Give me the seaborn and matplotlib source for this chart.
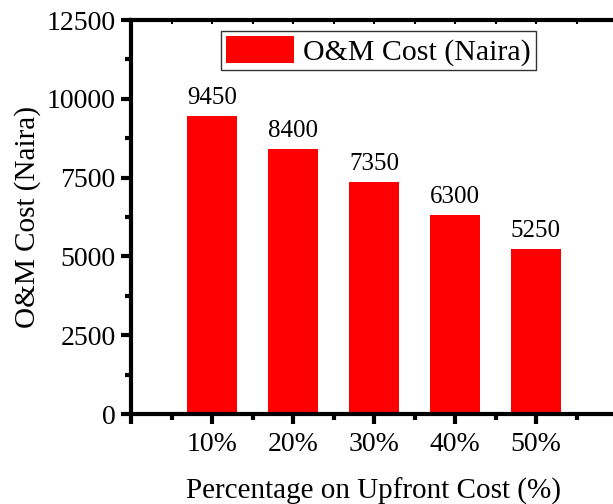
import matplotlib
matplotlib.use("Agg")
import matplotlib.pyplot as plt
from matplotlib.ticker import FixedLocator, MultipleLocator
import seaborn as sns
import pandas as pd

categories = ["10%", "20%", "30%", "40%", "50%"]
values = [9450, 8400, 7350, 6300, 5250]
series_name = "O&M Cost (Naira)"
x_label = "Percentage on Upfront Cost (%)"
y_label = "O&M Cost (Naira)"

sns.set_style("ticks")
plt.rcParams["font.family"] = ["Liberation Serif", "DejaVu Serif"]
plt.rcParams["text.color"] = "black"
plt.rcParams["axes.labelcolor"] = "black"
plt.rcParams["xtick.color"] = "black"
plt.rcParams["ytick.color"] = "black"

df = pd.DataFrame({"pct": categories, "cost": values, "series": series_name})

fig = plt.figure(figsize=(6.13, 5.04), dpi=100)
ax = fig.add_axes([131 / 613, 90 / 504, 486 / 613, 394 / 504])

sns.barplot(data=df, x="pct", y="cost", hue="series", order=categories,
            palette=["#FF0000"], width=0.62, saturation=1, ax=ax,
            edgecolor="none", linewidth=0)

ax.set_xlim(-1, 5)
ax.set_ylim(0, 12500)

ax.xaxis.set_major_locator(FixedLocator([-1, 0, 1, 2, 3, 4, 5]))
ax.set_xticklabels([""] + categories + [""])
ax.xaxis.set_minor_locator(FixedLocator([-0.5, 0.5, 1.5, 2.5, 3.5, 4.5, 5.5]))
ax.yaxis.set_major_locator(MultipleLocator(2500))
ax.yaxis.set_minor_locator(MultipleLocator(1250))

for s in ["left", "bottom", "top"]:
    ax.spines[s].set_linewidth(3)
    ax.spines[s].set_color("black")
ax.spines["right"].set_visible(False)

ax.tick_params(axis="both", which="major", direction="out", length=7, width=3,
               labelsize=20, colors="black", pad=4)
ax.tick_params(axis="both", which="minor", direction="out", length=4, width=3)
ax.tick_params(axis="x", which="major", labelsize=20, pad=6)

# small inward ticks on the top spine
top = ax.secondary_xaxis("top")
top.xaxis.set_major_locator(FixedLocator([-1, 0, 1, 2, 3, 4, 5]))
top.xaxis.set_minor_locator(FixedLocator([-0.5, 0.5, 1.5, 2.5, 3.5, 4.5, 5.5]))
top.tick_params(which="both", direction="in", length=3, width=1.5,
                labeltop=False, colors="black")
top.spines["top"].set_visible(False)

ax.set_xlabel(x_label, fontsize=21, labelpad=15)
ax.set_ylabel(y_label, fontsize=21, labelpad=4)

for c in ax.containers:
    ax.bar_label(c, labels=[str(v) for v in values], fontsize=18, padding=5,
                 color="black")

leg = ax.legend(loc="upper center", bbox_to_anchor=(0.509, 0.972), fontsize=21.5,
                frameon=True, fancybox=False, edgecolor="black",
                handlelength=2.3, handleheight=1.05, borderpad=0.15,
                handletextpad=0.3, borderaxespad=0)
leg.get_frame().set_linewidth(1)
for t in leg.get_texts():
    t.set_color("black")

fig.savefig("out.png", dpi=100)
